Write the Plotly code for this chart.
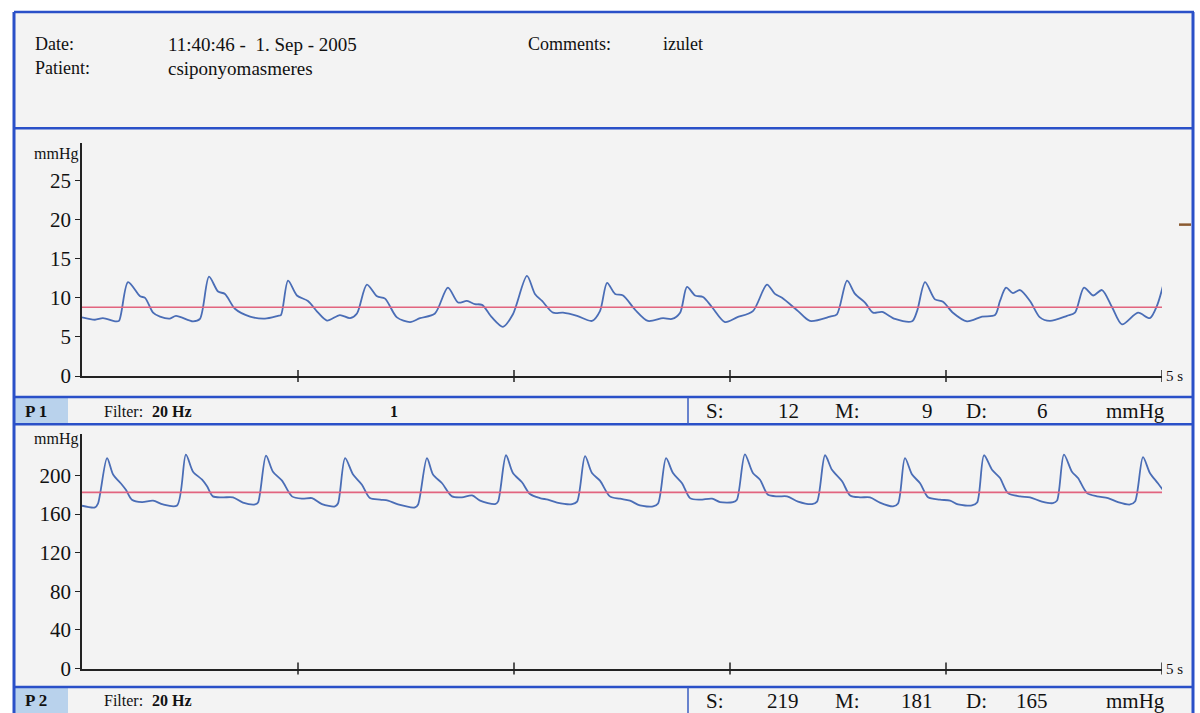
import plotly.graph_objects as go

# ---------------- data ----------------
p1_time = [0.000, 0.060, 0.097, 0.153, 0.171, 0.213, 0.269, 0.292, 0.329, 0.361, 0.407, 0.435,
           0.514, 0.546, 0.588, 0.630, 0.662, 0.708, 0.778, 0.847, 0.907, 0.921, 0.954, 0.995,
           1.046, 1.093, 1.134, 1.194, 1.241, 1.273, 1.319, 1.366, 1.403, 1.458, 1.519, 1.565,
           1.634, 1.694, 1.741, 1.782, 1.819, 1.852, 1.898, 1.949, 1.995, 2.060, 2.097, 2.130,
           2.181, 2.227, 2.292, 2.361, 2.398, 2.431, 2.468, 2.505, 2.560, 2.620, 2.690, 2.731,
           2.769, 2.801, 2.838, 2.875, 2.917, 2.977, 3.032, 3.106, 3.171, 3.208, 3.241, 3.315,
           3.370, 3.463, 3.495, 3.542, 3.579, 3.625, 3.662, 3.704, 3.764, 3.843, 3.866, 3.903,
           3.949, 3.986, 4.032, 4.097, 4.167, 4.227, 4.250, 4.278, 4.310, 4.343, 4.389, 4.435,
           4.481, 4.560, 4.597, 4.639, 4.681, 4.722, 4.769, 4.815, 4.889, 4.944, 4.977, 5.009]
p1_mmhg = [7.5, 7.2, 7.4, 7.0, 7.05, 12.0, 10.2, 10.0, 8.1, 7.6, 7.35, 7.7,
           7.0, 7.3, 12.7, 10.8, 10.5, 8.6, 7.6, 7.35, 7.7, 7.8, 12.2, 10.3,
           9.6, 8.1, 7.1, 7.8, 7.4, 8.0, 11.7, 10.2, 9.9, 7.5, 6.9, 7.4,
           8.0, 11.3, 9.4, 9.6, 9.2, 9.1, 7.5, 6.3, 7.9, 12.8, 10.5, 9.6,
           8.1, 8.1, 7.7, 7.05, 8.3, 11.9, 10.5, 10.3, 8.5, 7.05, 7.4, 7.3,
           8.1, 11.4, 10.3, 10.1, 8.8, 6.9, 7.5, 8.3, 11.7, 10.5, 10.0, 8.3,
           7.05, 7.6, 7.9, 12.2, 10.5, 9.4, 8.1, 8.2, 7.3, 7.0, 8.3, 12.0,
           9.8, 9.5, 8.1, 7.0, 7.6, 7.8, 9.6, 11.3, 10.6, 11.0, 9.6, 7.5,
           7.05, 7.7, 8.1, 11.3, 10.3, 11.0, 8.8, 6.6, 8.1, 7.4, 9.0, 12.0]
p1_mean = 8.8

p2_time = [0.000, 0.060, 0.074, 0.116, 0.144, 0.185, 0.204, 0.231, 0.278, 0.329, 0.375, 0.440,
           0.481, 0.514, 0.556, 0.579, 0.606, 0.653, 0.699, 0.745, 0.801, 0.815, 0.852, 0.884,
           0.926, 0.972, 1.019, 1.065, 1.111, 1.171, 1.185, 1.218, 1.255, 1.296, 1.333, 1.380,
           1.417, 1.463, 1.542, 1.556, 1.597, 1.625, 1.667, 1.713, 1.759, 1.806, 1.843, 1.912,
           1.926, 1.963, 1.995, 2.037, 2.074, 2.120, 2.157, 2.199, 2.269, 2.292, 2.329, 2.361,
           2.398, 2.444, 2.491, 2.537, 2.583, 2.644, 2.667, 2.704, 2.736, 2.778, 2.815, 2.861,
           2.917, 2.954, 3.014, 3.032, 3.069, 3.106, 3.139, 3.176, 3.222, 3.264, 3.315, 3.380,
           3.403, 3.440, 3.472, 3.519, 3.556, 3.602, 3.648, 3.694, 3.755, 3.778, 3.810, 3.843,
           3.880, 3.917, 3.972, 4.019, 4.056, 4.120, 4.144, 4.176, 4.213, 4.250, 4.287, 4.343,
           4.389, 4.444, 4.495, 4.514, 4.546, 4.583, 4.611, 4.653, 4.699, 4.750, 4.796, 4.852,
           4.875, 4.912, 4.944, 4.981, 5.009]
p2_mmhg = [168.7, 167, 171, 218, 201, 190.5, 185, 175, 172.5, 174, 170, 169,
           221.7, 204, 195.7, 188.8, 178.4, 177.4, 177.4, 172, 170, 172, 220.7, 204,
           194.7, 178.4, 176, 176.6, 170.4, 168, 171, 218, 201, 190.5, 176.6, 175,
           174, 170, 167, 170, 218, 201, 192, 178.4, 177.4, 179.4, 174, 170.4,
           173, 221, 202.6, 193, 180.8, 176.6, 175, 172, 170.4, 173, 220, 202.6,
           194.7, 178.4, 176, 174, 169, 168, 171, 218, 202.6, 192, 176.6, 175,
           176, 172.5, 172.5, 175, 222, 202.6, 195.7, 180, 178.4, 178.4, 173, 170.4,
           173, 221, 206, 194, 179.4, 177.4, 177.4, 172, 168, 171, 218, 201,
           192, 177.4, 175, 174, 170, 169, 172, 221, 206, 197.4, 181.8, 178.4,
           177.4, 173, 171.4, 174, 221.7, 204, 197.4, 181.8, 178.4, 176.6, 172.5, 170,
           173, 219, 202.6, 192, 183.6]
p2_mean = 182.5

p1_ticks = [0, 5, 10, 15, 20, 25]
p2_ticks = [0, 40, 80, 120, 160, 200]
time_ticks = [1, 2, 3, 4, 5]

p1_stats = {"S": "12", "M": "9", "D": "6"}
p2_stats = {"S": "219", "M": "181", "D": "165"}

# ---------------- layout helpers ----------------
# The captured picture is squeezed vertically by about 713/727, so the figure is made
# 727 px tall and reference pixel rows are mapped as fractions of 713.
W, H = 1200, 727
REF_H = 713
def px(x):
    return x / W
def py(y):
    return 1 - y / REF_H

SERIF = "Liberation Serif, Times New Roman, serif"
WAVE = "#4a6db6"
MEAN = "#e2647f"
BLUE = "#2a50c8"
BG = "#f3f3f3"

fig = go.Figure()

fig.add_trace(go.Scatter(x=p1_time, y=p1_mmhg, mode="lines", xaxis="x", yaxis="y",
                         line=dict(color=WAVE, width=1.8, shape="spline", smoothing=0.8),
                         hoverinfo="skip", showlegend=False))
fig.add_trace(go.Scatter(x=[0, 5.01], y=[p1_mean, p1_mean], mode="lines", xaxis="x", yaxis="y",
                         line=dict(color=MEAN, width=1.6), hoverinfo="skip", showlegend=False))
fig.add_trace(go.Scatter(x=p2_time, y=p2_mmhg, mode="lines", xaxis="x2", yaxis="y2",
                         line=dict(color=WAVE, width=1.8, shape="spline", smoothing=0.8),
                         hoverinfo="skip", showlegend=False))
fig.add_trace(go.Scatter(x=[0, 5.01], y=[p2_mean, p2_mean], mode="lines", xaxis="x2", yaxis="y2",
                         line=dict(color=MEAN, width=1.6), hoverinfo="skip", showlegend=False))

xdom = [px(82), px(1162)]
axis_common = dict(showgrid=False, zeroline=False, showline=True, linecolor="#222", linewidth=1.5)
y1top = (375 - 143) / 7.8
y2top = (666.7 - 432.7) / 0.9625

fig.update_layout(
    width=W, height=H,
    margin=dict(l=0, r=0, t=0, b=0),
    paper_bgcolor="white",
    plot_bgcolor="rgba(0,0,0,0)",
    font=dict(family=SERIF, color="#111"),
    xaxis=dict(domain=xdom, range=[0, 5], anchor="y", showticklabels=False, ticks="",
               fixedrange=True, **axis_common),
    yaxis=dict(domain=[py(375), py(143)], range=[0, y1top], anchor="x", tickvals=p1_ticks,
               ticks="outside", ticklen=5, tickwidth=1.3, tickcolor="#222",
               tickfont=dict(family=SERIF, size=21, color="#111"), fixedrange=True, **axis_common),
    xaxis2=dict(domain=xdom, range=[0, 5], anchor="y2", showticklabels=False, ticks="",
                fixedrange=True, **axis_common),
    yaxis2=dict(domain=[py(666.7), py(432.7)], range=[0, y2top], anchor="x2", tickvals=p2_ticks,
                ticks="outside", ticklen=5, tickwidth=1.3, tickcolor="#222",
                tickfont=dict(family=SERIF, size=21, color="#111"), fixedrange=True, **axis_common),
)

shapes = []
# page background inside frame
shapes.append(dict(type="rect", xref="paper", yref="paper", x0=px(14), x1=px(1194), y0=0, y1=py(12),
                   fillcolor=BG, line=dict(width=0), layer="below"))
# P cells shading
for top, bot in [(396, 423), (685, REF_H)]:
    shapes.append(dict(type="rect", xref="paper", yref="paper", x0=px(15), x1=px(68), y0=max(py(bot), 0), y1=py(top),
                       fillcolor="#b9d2ec", line=dict(width=0), layer="below"))
def hline(y, x0=14, x1=1194, w=2.5, c=BLUE):
    shapes.append(dict(type="line", xref="paper", yref="paper", x0=px(x0), x1=px(x1), y0=py(y), y1=py(y),
                       line=dict(color=c, width=w)))
def vline(x, y0, y1, w=2.5, c=BLUE):
    shapes.append(dict(type="line", xref="paper", yref="paper", x0=px(x), x1=px(x), y0=max(py(y0), 0),
                       y1=max(py(y1), 0), line=dict(color=c, width=w)))
hline(12)
hline(128)
hline(396)
hline(423)
hline(685)
vline(14, 12, REF_H, w=3)
vline(1193, 12, REF_H, w=3)
vline(688, 396, 423, w=1.5, c="#3a5cc0")
vline(688, 685, REF_H, w=1.5, c="#3a5cc0")

# time ticks crossing the x axes
for xa, base in [("x", 375), ("x2", 666.7)]:
    for t in time_ticks:
        shapes.append(dict(type="line", xref=xa, yref="paper", x0=t, x1=t, y0=py(base + 6), y1=py(base - 6),
                           line=dict(color="#222", width=1.5)))

# small brown mark at right edge of panel 1
shapes.append(dict(type="line", xref="paper", yref="paper", x0=px(1179), x1=px(1191), y0=py(224), y1=py(224),
                   line=dict(color="#8a5a30", width=2.5)))
fig.update_layout(shapes=shapes)

ann = []
def text(x, y, s, size=17, anchor="left", bold=False):
    if bold:
        s = "<b>" + s + "</b>"
    ann.append(dict(x=px(x), y=py(y), xref="paper", yref="paper", text=s,
                    showarrow=False, xanchor=anchor, yanchor="middle",
                    font=dict(family=SERIF, size=size, color="#111")))

# header
text(33, 44, "Date:", 18)
text(166, 44, "11:40:46 -  1. Sep - 2005", 19)
text(526, 44, "Comments:", 18)
text(661, 44, "izulet", 18)
text(33, 68, "Patient:", 18)
text(166, 68, "csiponyomasmeres", 19)

# axis unit labels
text(80, 154, "mmHg", 16, anchor="right")
text(80, 438, "mmHg", 16, anchor="right")
# 5 s labels
for xa, base in [("x", 375), ("x2", 666.7)]:
    ann.append(dict(x=5, y=py(base), xref=xa, yref="paper", text="5 s", showarrow=False, xanchor="left",
                    yanchor="middle", xshift=2, font=dict(family=SERIF, size=15, color="#111")))

# info bars
for yc, label, stats, extra in [(410, "P 1", p1_stats, "1"), (699, "P 2", p2_stats, None)]:
    text(23, yc, label, 17, bold=True)
    text(102, yc, "Filter:", 16)
    text(150, yc, "20 Hz", 16, bold=True)
    if extra:
        text(388, yc, extra, 16, bold=True)
    text(704, yc, "S:", 21)
    text(801, yc, stats["S"], 21, anchor="right")
    text(833, yc, "M:", 21)
    text(935, yc, stats["M"], 21, anchor="right")
    text(964, yc, "D:", 21)
    text(1050, yc, stats["D"], 21, anchor="right")
    text(1104, yc, "mmHg", 21)

fig.update_layout(annotations=ann)

post = (
    "document.documentElement.style.overflow='hidden';"
    "document.body.style.margin='0';"
)
fig.write_html("out.html", config={"displayModeBar": False}, post_script=post)
